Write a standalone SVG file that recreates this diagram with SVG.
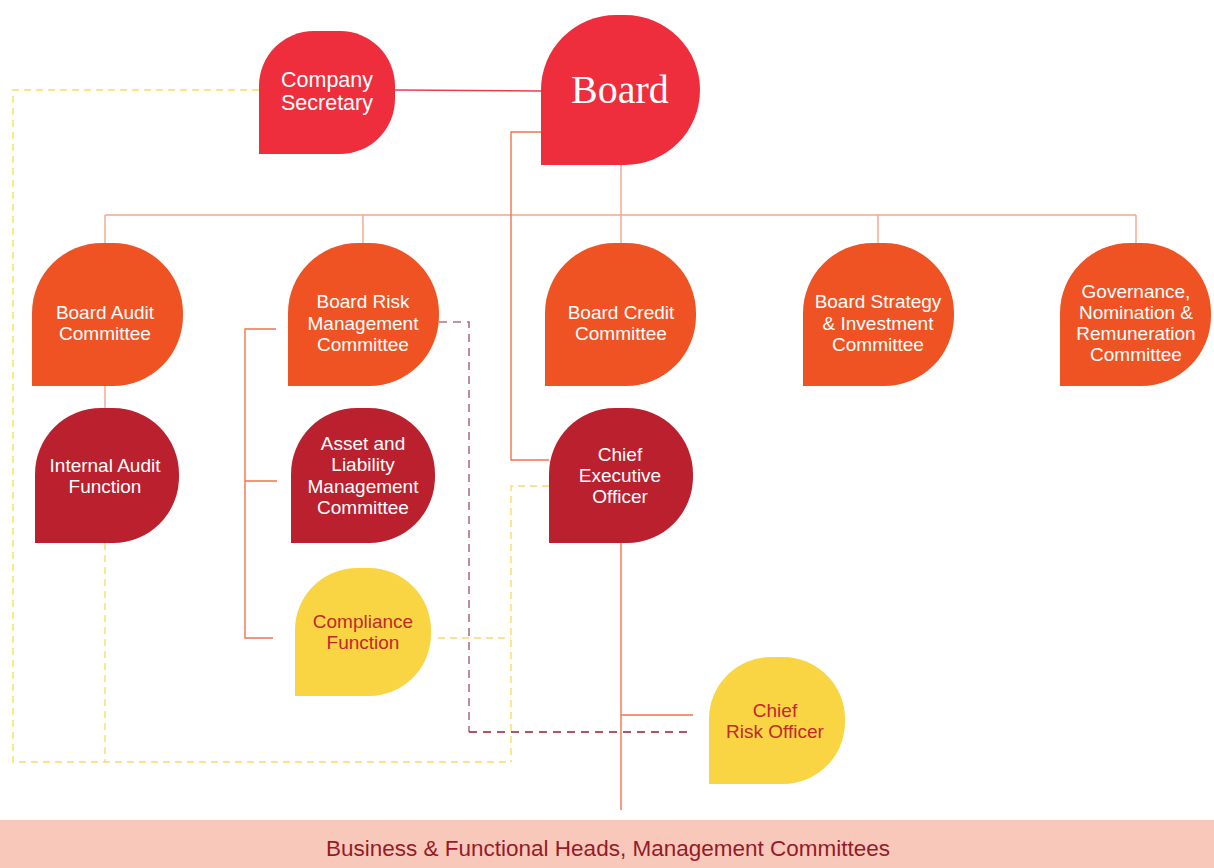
<svg xmlns="http://www.w3.org/2000/svg" width="1214" height="868" viewBox="0 0 1214 868">
<style>
.t{font-family:"Liberation Sans",Arial,sans-serif;font-size:19px;fill:#ffffff;text-anchor:middle}
.ty{font-family:"Liberation Sans",Arial,sans-serif;font-size:19px;fill:#c1282f;text-anchor:middle}
.red{fill:#ee2e3c}
.org{fill:#ef5324}
.dk{fill:#bb202e}
.yel{fill:#f9d443}
.c1{fill:none;stroke:#f5a58c;stroke-width:1.4}
.c2{fill:none;stroke:#f2734c;stroke-width:1.4}
.c3{fill:none;stroke:#ea3d4b;stroke-width:1.4}
.dy{fill:none;stroke:#f9dc66;stroke-width:1.4;stroke-dasharray:7 5}
.dr{fill:none;stroke:#b3707e;stroke-width:1.6;stroke-dasharray:8 6}
.dr2{fill:none;stroke:#9e1b2c;stroke-width:1.6;stroke-dasharray:8 6}
</style>
<rect x="0" y="0" width="1214" height="868" fill="#ffffff"/>
<g id="connectors">
  <path class="dy" d="M259,90 H13 V762 H511"/>
  <path class="dy" d="M549,486 H511 V762"/>
  <path class="dy" d="M438,638 H511"/>
  <path class="dy" d="M105,543 V762"/>
  <path class="dr" d="M439,322 H469 V732"/>
  <path class="dr2" d="M469,732 H693"/>
  <path class="c3" d="M395,90 L541,91"/>
  <path class="c1" d="M621,165 V215 M105,215 H1136 M105,215 V243 M363,215 V243 M621,215 V243 M878,215 V243 M1136,215 V243 M105,386 V408"/>
  <path class="c2" d="M541,132 H511 V460 H549"/>
  <path class="c2" d="M276,329 H245 V638 H273 M245,481 H277"/>
  <path class="c2" d="M621,543 V810 M621,715 H693"/>
</g>
<g id="company-secretary">
  <path class="red" d="M259,154 V86 A55,55 0 0 1 314,31 H340 A55,55 0 0 1 395,86 V99 A55,55 0 0 1 340,154 Z"/>
  <text class="t" style="font-size:21.5px" x="327" y="87">Company</text>
  <text class="t" style="font-size:21.5px" x="327" y="110">Secretary</text>
</g>
<g id="board">
  <path class="red" d="M541,165 V90 A75,75 0 0 1 616,15 H625 A75,75 0 0 1 700,90 V90 A75,75 0 0 1 625,165 Z"/>
  <text x="620" y="103" style="font-family:'Liberation Serif','Times New Roman',serif;font-size:40px;fill:#ffffff;text-anchor:middle">Board</text>
</g>
<g id="board-audit">
  <path class="org" d="M32,386 V313 A70,70 0 0 1 102,243 H113 A70,70 0 0 1 183,313 V316 A70,70 0 0 1 113,386 Z"/>
  <text class="t" x="105" y="319">Board Audit</text>
  <text class="t" x="105" y="340">Committee</text>
</g>
<g id="board-risk">
  <path class="org" d="M288,386 V313 A70,70 0 0 1 358,243 H369 A70,70 0 0 1 439,313 V316 A70,70 0 0 1 369,386 Z"/>
  <text class="t" x="363" y="308">Board Risk</text>
  <text class="t" x="363" y="330">Management</text>
  <text class="t" x="363" y="351">Committee</text>
</g>
<g id="board-credit">
  <path class="org" d="M545,386 V313 A70,70 0 0 1 615,243 H626 A70,70 0 0 1 696,313 V316 A70,70 0 0 1 626,386 Z"/>
  <text class="t" x="621" y="319">Board Credit</text>
  <text class="t" x="621" y="340">Committee</text>
</g>
<g id="board-strategy">
  <path class="org" d="M803,386 V313 A70,70 0 0 1 873,243 H884 A70,70 0 0 1 954,313 V316 A70,70 0 0 1 884,386 Z"/>
  <text class="t" x="878" y="308">Board Strategy</text>
  <text class="t" x="878" y="330">&amp; Investment</text>
  <text class="t" x="878" y="351">Committee</text>
</g>
<g id="governance">
  <path class="org" d="M1060,386 V313 A70,70 0 0 1 1130,243 H1141 A70,70 0 0 1 1211,313 V316 A70,70 0 0 1 1141,386 Z"/>
  <text class="t" x="1136" y="298">Governance,</text>
  <text class="t" x="1136" y="319">Nomination &amp;</text>
  <text class="t" x="1136" y="340">Remuneration</text>
  <text class="t" x="1136" y="361">Committee</text>
</g>
<g id="internal-audit">
  <path class="dk" d="M35,543 V474 A66,66 0 0 1 101,408 H113 A66,66 0 0 1 179,474 V477 A66,66 0 0 1 113,543 Z"/>
  <text class="t" x="105" y="472">Internal Audit</text>
  <text class="t" x="105" y="493">Function</text>
</g>
<g id="alco">
  <path class="dk" d="M291,543 V474 A66,66 0 0 1 357,408 H369 A66,66 0 0 1 435,474 V477 A66,66 0 0 1 369,543 Z"/>
  <text class="t" x="363" y="450">Asset and</text>
  <text class="t" x="363" y="471">Liability</text>
  <text class="t" x="363" y="493">Management</text>
  <text class="t" x="363" y="514">Committee</text>
</g>
<g id="ceo">
  <path class="dk" d="M549,543 V474 A66,66 0 0 1 615,408 H627 A66,66 0 0 1 693,474 V477 A66,66 0 0 1 627,543 Z"/>
  <text class="t" x="620" y="461">Chief</text>
  <text class="t" x="620" y="482">Executive</text>
  <text class="t" x="620" y="503">Officer</text>
</g>
<g id="compliance">
  <path class="yel" d="M295,696 V630 A62,62 0 0 1 357,568 H369 A62,62 0 0 1 431,630 V634 A62,62 0 0 1 369,696 Z"/>
  <text class="ty" x="363" y="628">Compliance</text>
  <text class="ty" x="363" y="649">Function</text>
</g>
<g id="cro">
  <path class="yel" d="M709,784 V719 A62,62 0 0 1 771,657 H783 A62,62 0 0 1 845,719 V722 A62,62 0 0 1 783,784 Z"/>
  <text class="ty" x="775" y="717">Chief</text>
  <text class="ty" x="775" y="738">Risk Officer</text>
</g>
<g id="business-heads">
  <rect x="0" y="820" width="1214" height="48" fill="#f8c9bb"/>
  <text x="608" y="856" style="font-family:'Liberation Sans',Arial,sans-serif;font-size:22.5px;fill:#961a28;text-anchor:middle">Business &amp; Functional Heads, Management Committees</text>
</g>
</svg>
